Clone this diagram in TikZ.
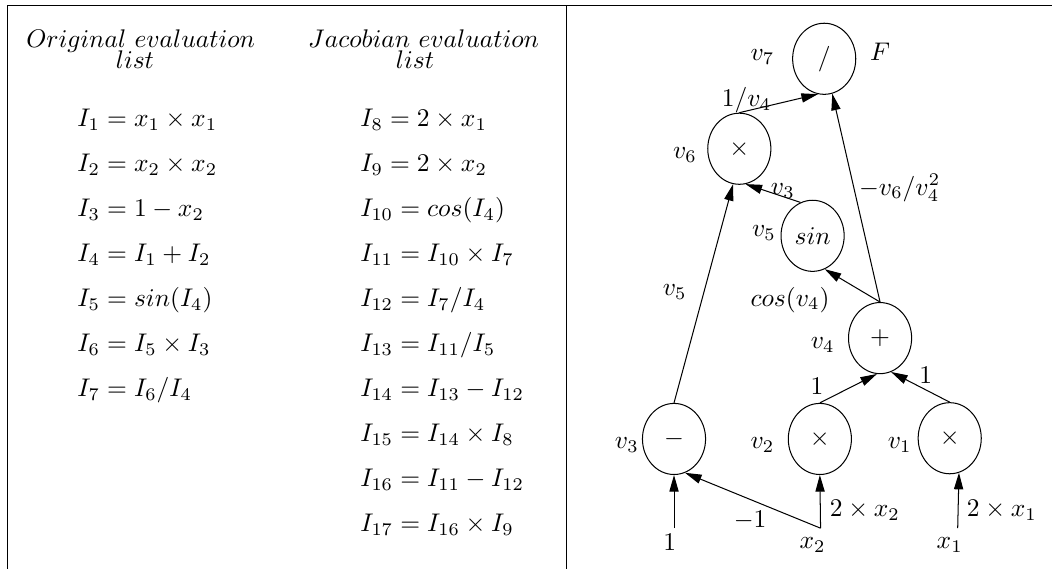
\documentclass[tikz,border=0pt]{standalone}
\usetikzlibrary{shapes.geometric, arrows.meta}

\begin{document}
\begin{tikzpicture}[
    opnode/.style={ellipse, draw, minimum width=0.87cm, minimum height=0.98cm, inner sep=0pt},
    lab/.style={inner sep=0pt},
    eq/.style={anchor=base west, inner sep=0pt},
    ttl/.style={anchor=base, inner sep=0pt},
    arrow/.style={-{Triangle[length=6.5pt, width=3.6pt]}}
]
\useasboundingbox (0,0) rectangle (14.50,-7.84);

% Frame of the table
\draw (0.10,-7.84) -- (0.10,-0.08) -- (14.50,-0.08);
\draw (7.81,-0.08) -- (7.81,-7.84);

% Column titles
\node[ttl] (origtitle) at (1.94,-0.66) {$Original\ evaluation$};
\node[ttl] (origlist) at (1.86,-0.95) {$list$};
\node[ttl] (jactitle) at (5.84,-0.66) {$Jacobian\ evaluation$};
\node[ttl] (jaclist) at (5.72,-0.95) {$list$};

% Original evaluation list
\node[eq] (i1) at (1.06,-1.75) {$I_1 = x_1 \times x_1$};
\node[eq] (i2) at (1.06,-2.37) {$I_2 = x_2 \times x_2$};
\node[eq] (i3) at (1.06,-2.99) {$I_3 = 1 - x_2$};
\node[eq] (i4) at (1.06,-3.61) {$I_4 = I_1 + I_2$};
\node[eq] (i5) at (1.06,-4.23) {$I_5 = sin(I_4)$};
\node[eq] (i6) at (1.06,-4.85) {$I_6 = I_5 \times I_3$};
\node[eq] (i7) at (1.06,-5.47) {$I_7 = I_6 / I_4$};

% Jacobian evaluation list
\node[eq] (i8) at (4.96,-1.75) {$I_8 = 2 \times x_1$};
\node[eq] (i9) at (4.96,-2.37) {$I_9 = 2 \times x_2$};
\node[eq] (i10) at (4.96,-2.99) {$I_{10} = cos(I_4)$};
\node[eq] (i11) at (4.96,-3.61) {$I_{11} = I_{10} \times I_7$};
\node[eq] (i12) at (4.96,-4.23) {$I_{12} = I_7 / I_4$};
\node[eq] (i13) at (4.96,-4.85) {$I_{13} = I_{11} / I_5$};
\node[eq] (i14) at (4.96,-5.47) {$I_{14} = I_{13} - I_{12}$};
\node[eq] (i15) at (4.96,-6.09) {$I_{15} = I_{14} \times I_8$};
\node[eq] (i16) at (4.96,-6.71) {$I_{16} = I_{11} - I_{12}$};
\node[eq] (i17) at (4.96,-7.33) {$I_{17} = I_{16} \times I_9$};

% Computational graph: operations
\node[opnode] (v7) at (11.36,-0.81) {$/$};
\node[opnode] (v6) at (10.19,-2.05) {$\times$};
\node[opnode] (v5) at (11.20,-3.25) {$sin$};
\node[opnode] (v4) at (12.13,-4.66) {$+$};
\node[opnode] (v3) at (9.29,-6.05) {$-$};
\node[opnode] (v2) at (11.30,-6.05) {$\times$};
\node[opnode] (v1) at (13.09,-6.04) {$\times$};

% Names of the operations
\node[lab] (v7lab) at (10.51,-0.79) {$v_7$};
\node[lab] (flab) at (12.13,-0.72) {$F$};
\node[lab] (v6lab) at (9.44,-2.14) {$v_6$};
\node[lab] (v5lab) at (10.53,-3.21) {$v_5$};
\node[lab] (v4lab) at (11.34,-4.75) {$v_4$};
\node[lab] (v3lab) at (8.64,-6.13) {$v_3$};
\node[lab] (v2lab) at (10.51,-6.13) {$v_2$};
\node[lab] (v1lab) at (12.40,-6.13) {$v_1$};

% Inputs
\node[lab] (one) at (9.23,-7.47) {$1$};
\node[lab] (x2) at (11.20,-7.51) {$x_2$};
\node[lab] (x1) at (13.09,-7.51) {$x_1$};
\coordinate (onein) at (9.29,-7.28);
\coordinate (x2in) at (11.31,-7.28);
\coordinate (x1in) at (13.20,-7.28);

% Partial derivatives on the edges
\node[lab] (d67) at (10.29,-1.38) {$1/v_4$};
\node[lab] (d56) at (10.79,-2.63) {$v_3$};
\node[lab] (d47) at (12.40,-2.59) {$-v_6/v_4^2$};
\node[lab] (d36) at (9.30,-4.02) {$v_5$};
\node[lab] (d45) at (10.89,-4.13) {$cos(v_4)$};
\node[lab] (d24) at (11.26,-5.33) {$1$};
\node[lab] (d14) at (12.76,-5.17) {$1$};
\node[lab] (dx2b) at (11.92,-7.03) {$2 \times x_2$};
\node[lab] (dx1) at (13.81,-7.03) {$2 \times x_1$};
\node[lab] (dx2a) at (10.34,-7.17) {$-1$};

% Edges
\draw[arrow] (onein) -- (v3.south);
\draw[arrow] (x2in) -- (v3.288);
\draw[arrow] (x2in) -- (v2.south);
\draw[arrow] (x1in) -- (v1.285);
\draw[arrow] (v2.north) -- (v4.265);
\draw[arrow] (v1.north) -- (v4.288);
\draw[arrow] (v4.north) -- (v5.290);
\draw[arrow] (v4.north) -- (v7.283);
\draw[arrow] (v3.north) -- (v6.260);
\draw[arrow] (v5.110) -- (v6.280);
\draw[arrow] (v6.north) -- (v7.260);

\end{tikzpicture}
\end{document}
